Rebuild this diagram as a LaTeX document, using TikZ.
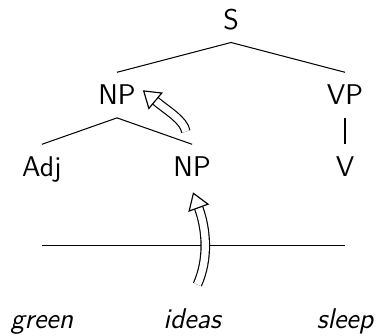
\documentclass[tikz,border=0pt]{standalone}
\usepackage{tikz}
\usetikzlibrary{positioning}
\usetikzlibrary{arrows.meta}
\tikzset{
	every node/.style={
			font=\fontsize{11pt}{13pt}\sffamily,
			text height=7.6pt, % same box for every label
			text depth=0pt,
			inner sep=4.8pt
		},
	word/.style={font=\fontsize{11pt}{13pt}\sffamily\itshape},
	move/.style={ % double arrow for movement
			draw,
			double,
			double distance=2.8pt,
			line width=0.45pt,
			-{Triangle[open, length=6.5pt, width=8.5pt]},
			shorten <=5pt
		}
}
\begin{document}
\begin{tikzpicture}[x=0.386pt, y=-0.386pt,
		edge from parent path={(\tikzparentnode.south) -- (\tikzchildnode.north)},
		level 1/.style={level distance=29.1pt, sibling distance=88pt},
		level 2/.style={level distance=27.8pt, sibling distance=58pt}]
	\useasboundingbox (0,0) rectangle (377,336);
	\node (s) at (231,19.7) {S}
	child {node (np) {NP}
			child {node (adj) {Adj}}
			child {node (npb) {NP}}
		}
	child {node (vp) {VP}
			child {node (v) {V}}
		};
	% the line and the words below it
	\coordinate (barl) at (adj |- 0,245.5);
	\coordinate (barr) at (v |- 0,245.5);
	\draw (barl) -- (barr);
	\node[word, anchor=base] (green) at (adj |- 0,329) {green};
	\node[word, anchor=base] (ideas) at (npb |- 0,329) {ideas};
	\node[word, anchor=base] (sleep) at (v |- 0,329) {sleep};
	% movement arrows
	\draw[move, shorten >=1pt] (ideas.north) to[out=66, in=-70] (npb.south);
	\draw[move, shorten >=-2.9pt] (npb) to[out=100, in=-40] (np.east);
\end{tikzpicture}
\end{document}
